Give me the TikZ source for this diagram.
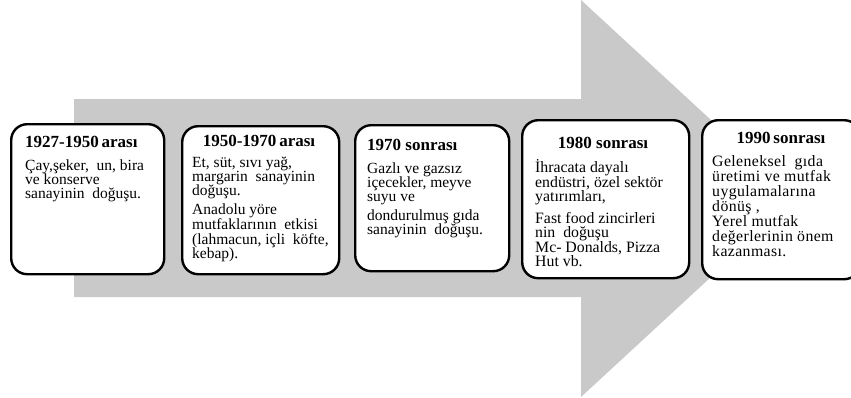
\documentclass[tikz,border=0pt]{standalone}
\usepackage{fontspec}
\setmainfont{Liberation Serif}
\newfontfamily\wideserif[LetterSpace=2.5]{Liberation Serif}
\definecolor{arrowgray}{RGB}{201,201,201}
\begin{document}
\begin{tikzpicture}[x=1pt,y=-1pt,
  box/.style={draw=black, line width=2.4pt, fill=white, rounded corners=16pt, anchor=north west, inner sep=0pt},
  headw/.style={inner sep=0pt, anchor=base west, font=\fontsize{17}{17}\selectfont\bfseries},
  headc/.style={inner sep=0pt, anchor=base, font=\fontsize{17}{17}\selectfont\bfseries},
  bodytext/.style={inner sep=0pt, anchor=base west, font=\fontsize{15.5}{14.2}\selectfont},
  bigbody/.style={inner sep=0pt, anchor=base west, font=\wideserif\fontsize{15.8}{15}\selectfont}]
\useasboundingbox (0,0) rectangle (851,397);
\clip (0,0) rectangle (851,397);
% big arrow
\fill[arrowgray] (74,99) -- (581,99) -- (581,0) -- (796,198.5) -- (581,397) -- (581,297) -- (74,297) -- cycle;
% boxes
\node[box, minimum width=153pt, minimum height=150pt] (n1) at (10,123) {};
\node[box, minimum width=157pt, minimum height=148pt] (n2) at (181,125) {};
\node[box, minimum width=154pt, minimum height=146pt] (n3) at (354,124) {};
\node[box, minimum width=167pt, minimum height=158pt] (n4) at (521,119) {};
\node[box, minimum width=158pt, minimum height=159pt] (n5) at (701,119) {};
% box 1
\node[headw] (h1) at (25,147) {1927-1950\,arası};
\node[bodytext] (b1) at (25,170) {\parbox[t]{140pt}{Çay,şeker,\ \ un, bira\\ve konserve\\sanayinin\ \ doğuşu.}};
% box 2
\node[headc] (h2) at (259,146) {1950-1970\,arası};
\node[bodytext] (b2) at (192,167) {\parbox[t]{145pt}{Et, süt, sıvı yağ,\\margarin\ \ sanayinin\\doğuşu.\\[5pt]Anadolu yöre\\mutfaklarının\ \ etkisi\\(lahmacun, içli\ \ köfte,\\kebap).}};
% box 3
\node[headw] (h3) at (367,150) {1970 sonrası};
\node[bodytext] (b3) at (367,173) {\parbox[t]{140pt}{Gazlı ve gazsız\\içecekler, meyve\\suyu ve\\[5pt]dondurulmuş gıda\\sanayinin\ \ doğuşu.}};
% box 4
\node[headc] (h4) at (603,148) {1980 sonrası};
\node[bodytext, font=\fontsize{15.8}{14.2}\selectfont] (b4) at (535,172) {\parbox[t]{150pt}{İhracata dayalı\\endüstri, özel sektör\\yatırımları,\\[6pt]Fast food zincirleri\\nin\ \ doğuşu\\Mc- Donalds, Pizza\\Hut vb.}};
% box 5
\node[headc] (h5) at (781,143) {1990\,sonrası};
\node[bigbody] (b5) at (712,166) {\parbox[t]{140pt}{Geleneksel\ \ gıda\\üretimi ve mutfak\\uygulamalarına\\dönüş ,\\Yerel mutfak\\değerlerinin önem\\kazanması.}};
\end{tikzpicture}
\end{document}
